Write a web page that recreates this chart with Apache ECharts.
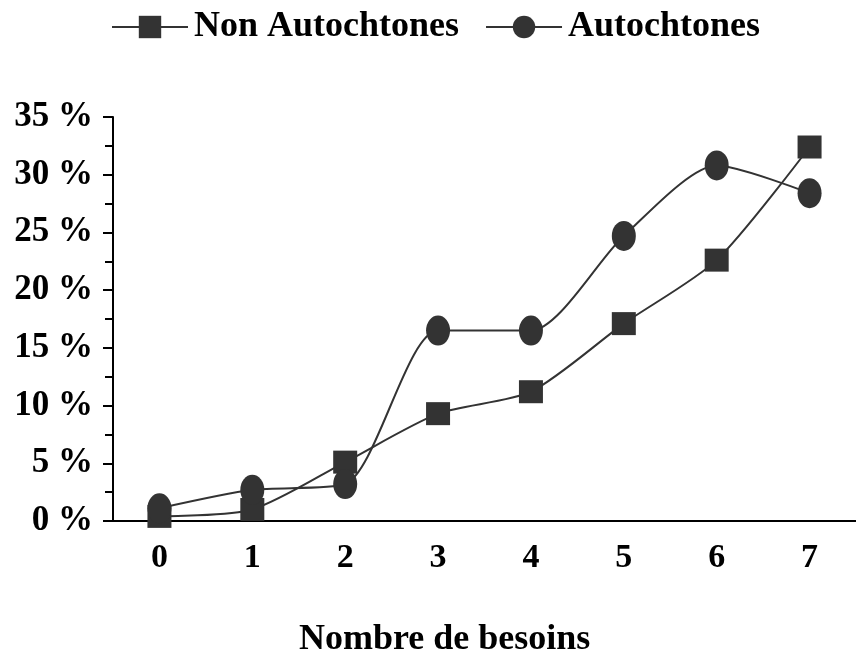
<!DOCTYPE html>
<html>
<head>
<meta charset="utf-8">
<script src="https://cdn.jsdelivr.net/npm/echarts@6/dist/echarts.min.js"></script>
<style>
  html, body { margin: 0; padding: 0; background: #fff; }
  #main { width: 856px; height: 658px; }
</style>
</head>
<body>
<div id="main"></div>
<script>
var categories = ['0', '1', '2', '3', '4', '5', '6', '7'];
var nonAutochtones = [0.4, 1.0, 5.1, 9.3, 11.2, 17.1, 22.6, 32.4];
var autochtones = [1.1, 2.7, 3.2, 16.5, 16.5, 24.7, 30.8, 28.4];

var chart = echarts.init(document.getElementById('main'));
var font = '"Liberation Serif", "Times New Roman", serif';
var ink = '#333333';
var ellipse = 'path://M0,50 A50,50 0 1,1 100,50 A50,50 0 1,1 0,50 Z';

chart.setOption({
  animation: false,
  title: {
    text: 'Nombre de besoins',
    left: 294,
    top: 617,
    textStyle: { fontFamily: font, fontWeight: 'bold', fontSize: 36, color: '#000' }
  },
  legend: {
    left: 106,
    top: 4,
    itemWidth: 76,
    itemHeight: 28,
    itemGap: 26,
    textStyle: { fontFamily: font, fontWeight: 'bold', fontSize: 36, color: '#000', padding: [0, 0, 0, 1] },
    data: ['Non Autochtones', 'Autochtones']
  },
  grid: { left: 113, right: -6, top: 117, bottom: 137 },
  xAxis: {
    type: 'category',
    data: categories,
    boundaryGap: true,
    axisLine: { lineStyle: { color: '#000', width: 2 } },
    axisTick: { length: 10, lineStyle: { color: '#000', width: 2 } },
    axisLabel: { margin: 20, fontFamily: font, fontWeight: 'bold', fontSize: 34, color: '#000' }
  },
  yAxis: {
    type: 'value',
    min: 0,
    max: 35,
    interval: 5,
    splitLine: { show: false },
    axisLine: { show: true, lineStyle: { color: '#000', width: 2 } },
    axisTick: { show: true, length: 10, lineStyle: { color: '#000', width: 2 } },
    minorTick: { show: true, splitNumber: 2, length: 8, lineStyle: { color: '#000', width: 2 } },
    axisLabel: {
      margin: 20,
      fontFamily: font, fontWeight: 'bold', fontSize: 35, color: '#000',
      formatter: '{value} %'
    }
  },
  series: [
    {
      name: 'Non Autochtones',
      type: 'line',
      data: nonAutochtones,
      smooth: 0.25,
      symbol: 'rect',
      symbolSize: [24, 23],
      itemStyle: { color: ink },
      lineStyle: { color: ink, width: 2 }
    },
    {
      name: 'Autochtones',
      type: 'line',
      data: autochtones,
      smooth: 0.25,
      symbol: ellipse,
      symbolSize: [24, 30],
      itemStyle: { color: ink },
      lineStyle: { color: ink, width: 2 }
    }
  ]
});
</script>
</body>
</html>
